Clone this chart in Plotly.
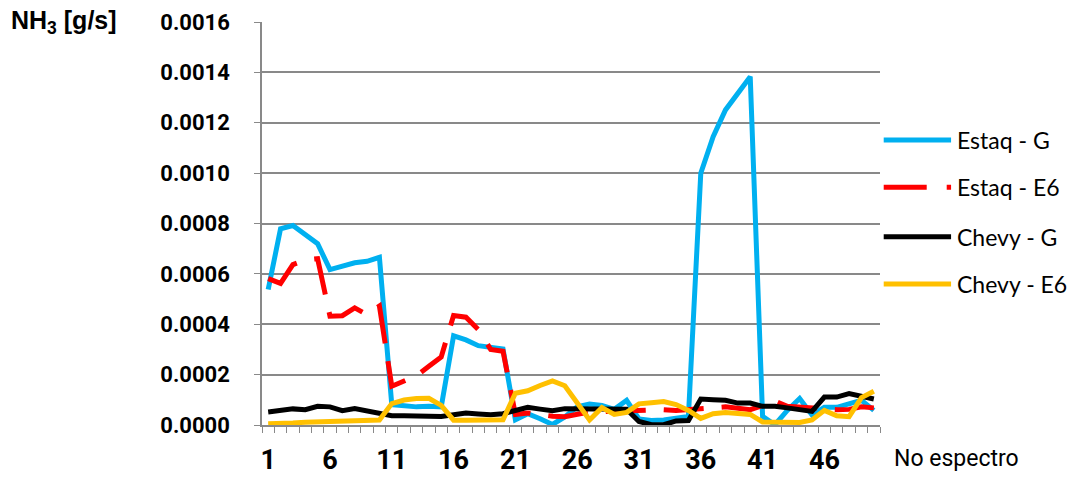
import plotly.graph_objects as go

# spectrum number (category axis, 1..50)
spectra = list(range(1, 51))
x_tick_vals = [1, 6, 11, 16, 21, 26, 31, 36, 41, 46]
y_tick_vals = [0.0000, 0.0002, 0.0004, 0.0006, 0.0008, 0.0010, 0.0012, 0.0014, 0.0016]

series_names = ["Estaq - G", "Estaq - E6", "Chevy - G", "Chevy - E6"]
series_colors = ["#00B0F0", "#FF0000", "#000000", "#FFC000"]

# NH3 [g/s]
estaq_g = [
    5.38e-4, 7.79e-4, 7.92e-4, 7.56e-4, 7.20e-4, 6.17e-4, 6.33e-4, 6.44e-4, 6.50e-4, 6.66e-4,
    0.81e-4, 0.74e-4, 0.72e-4, 0.74e-4, 0.72e-4, 3.54e-4, 3.38e-4, 3.15e-4, 3.10e-4, 3.02e-4,
    0.21e-4, 0.45e-4, 0.25e-4, 0.02e-4, 0.32e-4, 0.72e-4, 0.83e-4, 0.78e-4, 0.62e-4, 0.98e-4,
    0.24e-4, 0.18e-4, 0.20e-4, 0.28e-4, 0.34e-4, 10.0e-4, 11.45e-4, 12.51e-4, 13.2e-4, 13.83e-4,
    0.34e-4, 0.01e-4, 0.58e-4, 1.05e-4, 0.40e-4, 0.70e-4, 0.70e-4, 0.85e-4, 0.98e-4, 0.58e-4,
]
estaq_e6 = [
    5.81e-4, 5.62e-4, 6.37e-4, 6.55e-4, 6.60e-4, 4.32e-4, 4.34e-4, 4.65e-4, 4.38e-4, 4.72e-4,
    1.54e-4, 1.76e-4, 1.96e-4, 2.33e-4, 2.70e-4, 4.35e-4, 4.28e-4, 3.79e-4, 3.00e-4, 2.93e-4,
    0.42e-4, 0.48e-4, 0.40e-4, 0.35e-4, 0.33e-4, 0.45e-4, 0.52e-4, 0.53e-4, 0.55e-4, 0.60e-4,
    0.60e-4, 0.61e-4, 0.61e-4, 0.58e-4, 0.60e-4, 0.64e-4, 0.68e-4, 0.72e-4, 0.65e-4, 0.61e-4,
    0.77e-4, 0.95e-4, 0.74e-4, 0.70e-4, 0.65e-4, 0.61e-4, 0.61e-4, 0.62e-4, 0.72e-4, 0.68e-4,
]
chevy_g = [
    0.52e-4, 0.58e-4, 0.64e-4, 0.61e-4, 0.74e-4, 0.72e-4, 0.57e-4, 0.65e-4, 0.54e-4, 0.48e-4,
    0.37e-4, 0.37e-4, 0.37e-4, 0.34e-4, 0.34e-4, 0.41e-4, 0.48e-4, 0.44e-4, 0.41e-4, 0.45e-4,
    0.58e-4, 0.70e-4, 0.63e-4, 0.57e-4, 0.65e-4, 0.65e-4, 0.65e-4, 0.65e-4, 0.65e-4, 0.63e-4,
    0.14e-4, 0.01e-4, 0.01e-4, 0.16e-4, 0.18e-4, 1.03e-4, 1.00e-4, 0.98e-4, 0.87e-4, 0.87e-4,
    0.74e-4, 0.74e-4, 0.68e-4, 0.61e-4, 0.54e-4, 1.11e-4, 1.11e-4, 1.25e-4, 1.12e-4, 1.03e-4,
]
chevy_e6 = [
    0.05e-4, 0.05e-4, 0.08e-4, 0.11e-4, 0.13e-4, 0.12e-4, 0.16e-4, 0.17e-4, 0.17e-4, 0.20e-4,
    0.85e-4, 0.99e-4, 1.05e-4, 1.06e-4, 0.78e-4, 0.19e-4, 0.19e-4, 0.19e-4, 0.19e-4, 0.21e-4,
    1.26e-4, 1.36e-4, 1.57e-4, 1.75e-4, 1.56e-4, 0.85e-4, 0.20e-4, 0.69e-4, 0.42e-4, 0.50e-4,
    0.84e-4, 0.88e-4, 0.93e-4, 0.81e-4, 0.58e-4, 0.26e-4, 0.45e-4, 0.50e-4, 0.47e-4, 0.42e-4,
    0.12e-4, 0.10e-4, 0.10e-4, 0.10e-4, 0.20e-4, 0.58e-4, 0.37e-4, 0.33e-4, 1.09e-4, 1.34e-4,
]
all_series = [estaq_g, estaq_e6, chevy_g, chevy_e6]

GRID = "#898989"
NARROW = "Liberation Sans Narrow, Arial Narrow, Roboto, sans-serif"
red_dash = "40px,18px"

fig = go.Figure()
for name, values, color in zip(series_names, all_series, series_colors):
    fig.add_trace(
        go.Scatter(
            x=spectra,
            y=values,
            name=name,
            mode="lines",
            line={"color": color, "width": 5, "dash": red_dash if name == "Estaq - E6" else "solid"},
            showlegend=False,
        )
    )

# hand drawn legend so the line samples are as long as in the original
legend_y = [0.707, 0.590, 0.467, 0.350]
for name, color, ly in zip(series_names, series_colors, legend_y):
    fig.add_shape(
        type="line", xref="paper", yref="paper",
        x0=1.006, x1=1.115, y0=ly, y1=ly,
        line={"color": color, "width": 5, "dash": "43px,20px" if name == "Estaq - E6" else "solid"},
    )
    fig.add_annotation(
        text=name, xref="paper", yref="paper", x=1.122, y=ly,
        xanchor="left", yanchor="middle", showarrow=False,
        font={"family": "Lato, sans-serif", "size": 23, "color": "#000000"},
    )

fig.add_annotation(
    text="<b>NH<sub>3</sub> [g/s]</b>", xref="paper", yref="paper",
    x=-0.409, y=1.0, xanchor="left", yanchor="middle", showarrow=False,
    font={"family": "Liberation Sans, Arial, sans-serif", "size": 25, "color": "#000000"},
)
fig.add_annotation(
    text="No espectro", xref="paper", yref="paper",
    x=1.02, y=-0.082, xanchor="left", yanchor="middle", showarrow=False,
    font={"family": NARROW, "size": 23, "color": "#000000"},
)

fig.update_layout(
    width=1075,
    height=483,
    margin={"l": 262, "r": 195, "t": 22, "b": 58},
    paper_bgcolor="#FFFFFF",
    plot_bgcolor="#FFFFFF",
)
fig.update_xaxes(
    range=[0.5, 50.5],
    automargin=False,
    tickmode="array",
    tickvals=x_tick_vals,
    ticks="",
    ticklabelstandoff=10,
    showgrid=False,
    showline=True,
    linecolor=GRID,
    linewidth=1.5,
    zeroline=False,
    tickfont={"family": NARROW, "size": 27, "color": "#000000", "weight": "bold"},
    minor={"ticks": "outside", "tick0": 0.5, "dtick": 1, "ticklen": 6, "tickcolor": GRID, "tickwidth": 1.2, "showgrid": False},
)
fig.update_yaxes(
    range=[0, 0.0016],
    automargin=False,
    tickmode="array",
    tickvals=y_tick_vals,
    tickformat=".4f",
    ticks="outside",
    ticklen=6,
    tickcolor=GRID,
    tickwidth=1.2,
    ticklabelstandoff=20,
    showgrid=True,
    gridcolor=GRID,
    gridwidth=1.5,
    showline=True,
    linecolor=GRID,
    linewidth=1.5,
    zeroline=False,
    tickfont={"family": NARROW, "size": 22, "color": "#000000", "weight": "bold"},
)

# drop the default page margin so the figure sits at the window's corner
fig.write_html(
    "out.html",
    config={"displayModeBar": False},
    post_script=(
        "document.documentElement.style.margin='0px';"
        "document.documentElement.style.overflow='hidden';"
        "document.body.style.margin='0px';"
        "document.body.style.overflow='hidden';"
    ),
)
